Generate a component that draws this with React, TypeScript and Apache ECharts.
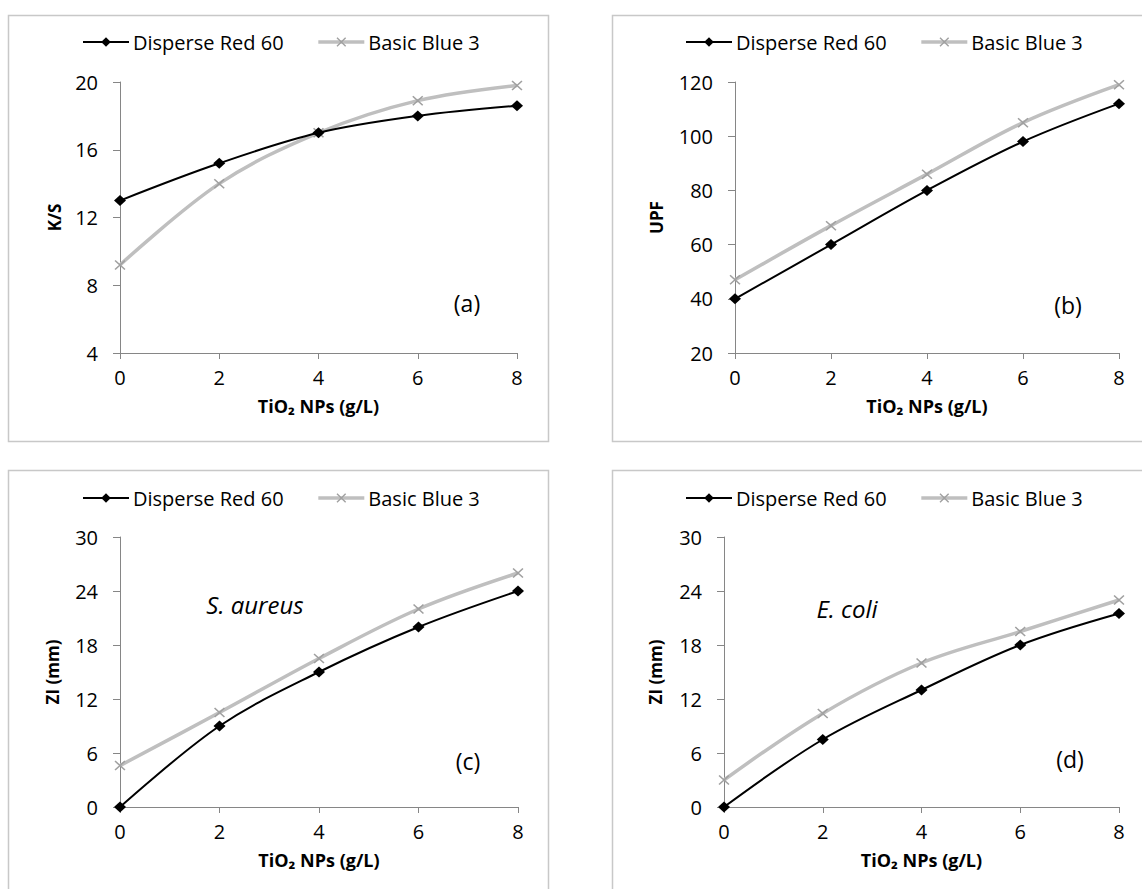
import React, { useEffect, useRef } from "react";
import * as echarts from "echarts";

const xValues = [0, 2, 4, 6, 8];
const seriesNames = ["Disperse Red 60", "Basic Blue 3"];

const ksRed = [13.0, 15.2, 17.0, 18.0, 18.6];
const ksBlue = [9.2, 14.0, 17.0, 18.9, 19.8];
const upfRed = [40, 60, 80, 98, 112];
const upfBlue = [47, 67, 86, 105, 119];
const aureusRed = [0, 9, 15, 20, 24];
const aureusBlue = [4.6, 10.5, 16.5, 22, 26];
const coliRed = [0, 7.5, 13, 18, 21.5];
const coliBlue = [3, 10.4, 16, 19.5, 23];

const xTitle = "TiO₂ NPs (g/L)";

const FONT = "'Open Sans', 'Noto Sans', sans-serif";
const FS_LEGEND = 20;
const FS_TICK = 20;
const FS_XTITLE = 18;
const FS_YTITLE = 17;
const FS_TAG = 23;
const FS_SPECIES = 24;
const AXIS_COLOR = "#868686";
const GRAY_LINE = "#bfbfbf";
const GRAY_MARK = "#a0a0a0";
const X_SYMBOL = "path://M0,1 L1,0 L10,9 L9,10 Z M9,0 L10,1 L1,10 L0,9 Z";

const panels = [
  { grid: { left: 120, top: 82, width: 397, height: 271 }, yMin: 4, yMax: 20, yInt: 4, yName: "K/S", yGap: 57, red: ksRed, blue: ksBlue, border: [8.5, 15.5], tag: "(a)", tagPos: [467, 303], legendPos: [82, 32] },
  { grid: { left: 735, top: 82, width: 384, height: 271 }, yMin: 20, yMax: 120, yInt: 20, yName: "UPF", yGap: 70, red: upfRed, blue: upfBlue, border: [612.5, 15.5], tag: "(b)", tagPos: [1068, 305], legendPos: [685, 32] },
  { grid: { left: 120, top: 537, width: 398, height: 270 }, yMin: 0, yMax: 30, yInt: 6, yName: "ZI (mm)", yGap: 59, red: aureusRed, blue: aureusBlue, border: [8.5, 470.5], tag: "(c)", tagPos: [468, 761], legendPos: [82, 488], species: "S. aureus", speciesPos: [255, 604] },
  { grid: { left: 724, top: 537, width: 395, height: 270 }, yMin: 0, yMax: 30, yInt: 6, yName: "ZI (mm)", yGap: 60, red: coliRed, blue: coliBlue, border: [612.5, 470.5], tag: "(d)", tagPos: [1070, 759], legendPos: [685, 488], species: "E. coli", speciesPos: [847, 608] },
];

function buildOption() {
  const grid: any[] = [];
  const xAxis: any[] = [];
  const yAxis: any[] = [];
  const series: any[] = [];
  const legend: any[] = [];
  const graphic: any[] = [];

  panels.forEach((p, i) => {
    grid.push({ ...p.grid, containLabel: false });
    xAxis.push({
      type: "value",
      gridIndex: i,
      min: 0,
      max: 8,
      interval: 2,
      name: xTitle,
      nameLocation: "middle",
      nameGap: 44,
      nameTextStyle: { fontFamily: FONT, fontSize: FS_XTITLE, fontWeight: "bold", color: "#000" },
      axisLine: { show: true, onZero: false, lineStyle: { color: AXIS_COLOR, width: 1 } },
      axisTick: { show: true, length: 6, lineStyle: { color: AXIS_COLOR } },
      axisLabel: { margin: 14, fontFamily: FONT, fontSize: FS_TICK, color: "#000" },
      splitLine: { show: false },
    });
    yAxis.push({
      type: "value",
      gridIndex: i,
      min: p.yMin,
      max: p.yMax,
      interval: p.yInt,
      name: p.yName,
      nameLocation: "middle",
      nameGap: p.yGap,
      nameRotate: 90,
      nameTextStyle: { fontFamily: FONT, fontSize: FS_YTITLE, fontWeight: "bold", color: "#000" },
      axisLine: { show: true, lineStyle: { color: AXIS_COLOR, width: 1 } },
      axisTick: { show: true, length: 7, lineStyle: { color: AXIS_COLOR } },
      axisLabel: { margin: 22, fontFamily: FONT, fontSize: FS_TICK, color: "#000" },
      splitLine: { show: false },
    });
    series.push({
      type: "line",
      name: seriesNames[1],
      xAxisIndex: i,
      yAxisIndex: i,
      data: xValues.map((x, k) => [x, p.blue[k]]),
      smooth: 0.35,
      symbol: X_SYMBOL,
      symbolSize: [11, 10],
      z: 2,
      lineStyle: { color: GRAY_LINE, width: 3.5 },
      itemStyle: { color: GRAY_MARK },
    });
    series.push({
      type: "line",
      name: seriesNames[0],
      xAxisIndex: i,
      yAxisIndex: i,
      data: xValues.map((x, k) => [x, p.red[k]]),
      smooth: 0.35,
      symbol: "diamond",
      symbolSize: [12, 11],
      z: 3,
      lineStyle: { color: "#000", width: 2 },
      itemStyle: { color: "#000" },
    });
    legend.push({
      left: p.legendPos[0],
      top: p.legendPos[1],
      padding: 0,
      orient: "horizontal",
      itemWidth: 46,
      itemHeight: 12,
      itemGap: 33,
      selectedMode: false,
      textStyle: { fontFamily: FONT, fontSize: FS_LEGEND, color: "#000", padding: [0, 0, 0, -1] },
      data: [
        { name: seriesNames[0], lineStyle: { color: "#000", width: 2 }, itemStyle: { color: "#000" } },
        { name: seriesNames[1], lineStyle: { color: GRAY_LINE, width: 3.5 }, itemStyle: { color: GRAY_MARK } },
      ],
    });
    graphic.push({
      type: "rect",
      silent: true,
      z: -1,
      shape: { x: p.border[0], y: p.border[1], width: 540, height: 426 },
      style: { fill: "none", stroke: "#c8c8c8", lineWidth: 1.5 },
    });
    graphic.push({
      type: "text",
      x: p.tagPos[0],
      y: p.tagPos[1],
      style: { text: p.tag, fontFamily: FONT, fontSize: FS_TAG, fill: "#000", align: "center", verticalAlign: "middle" },
    });
    if (p.species) {
      graphic.push({
        type: "text",
        x: p.speciesPos[0],
        y: p.speciesPos[1],
        style: { text: p.species, fontFamily: FONT, fontSize: FS_SPECIES, fontStyle: "italic", fill: "#000", align: "center", verticalAlign: "middle" },
      });
    }
  });

  return { animation: false, backgroundColor: "#fff", grid, xAxis, yAxis, series, legend, graphic };
}

export default function App() {
  const ref = useRef<HTMLDivElement>(null);
  useEffect(() => {
    if (!ref.current) return;
    const chart = echarts.init(ref.current, undefined, { renderer: "svg" });
    chart.setOption(buildOption() as any);
    return () => chart.dispose();
  }, []);
  return <div ref={ref} style={{ position: "absolute", left: 0, top: 0, width: 1142, height: 889 }} />;
}
